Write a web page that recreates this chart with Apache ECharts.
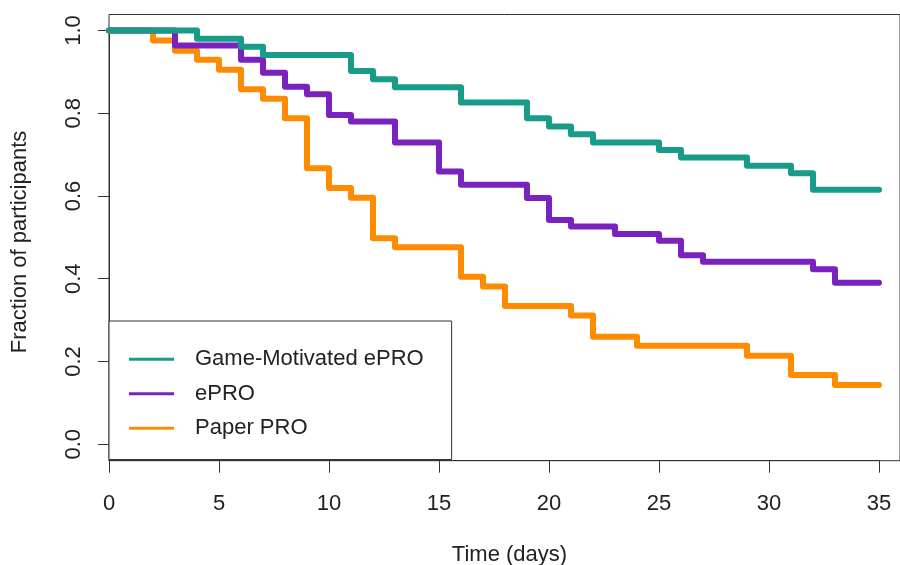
<!DOCTYPE html>
<html><head><meta charset="utf-8">
<script src="https://cdn.jsdelivr.net/npm/echarts@6/dist/echarts.min.js"></script>
<style>html,body{margin:0;padding:0;background:#fff}#c{width:900px;height:565px}</style>
</head><body><div id="c"></div>
<script>
const seriesNames = ["Game-Motivated ePRO", "ePRO", "Paper PRO"];
const gameTimes = [0,4,6,7,11,12,13,16,19,20,21,22,25,26,29,31,32,35];
const gameValues = [1,0.98,0.961,0.941,0.902,0.882,0.863,0.826,0.788,0.768,0.749,0.729,0.711,0.693,0.673,0.655,0.615,0.615];
const eproTimes = [0,3,6,7,8,9,10,11,13,15,16,19,20,21,23,25,26,27,32,33,35];
const eproValues = [1,0.964,0.929,0.898,0.864,0.846,0.796,0.780,0.729,0.659,0.627,0.595,0.542,0.526,0.508,0.492,0.457,0.441,0.423,0.390,0.390];
const paperTimes = [0,2,3,4,5,6,7,8,9,10,11,12,13,16,17,18,21,22,24,29,31,33,35];
const paperValues = [1,0.976,0.951,0.929,0.905,0.858,0.835,0.788,0.667,0.619,0.596,0.498,0.476,0.405,0.381,0.334,0.311,0.260,0.238,0.214,0.167,0.143,0.143];
const xTicks = [0,5,10,15,20,25,30,35];
const yTicks = [0,0.2,0.4,0.6,0.8,1.0];
const xTitle = "Time (days)";
const yTitle = "Fraction of participants";
const colors = ["#169c88", "#7a22bd", "#ff8c00"];

const FONT = "'Liberation Sans', Arial, Helvetica, sans-serif";
const FS = 22;
const zip = (t, v) => t.map((x, i) => [x, v[i]]);
const allData = [zip(gameTimes, gameValues), zip(eproTimes, eproValues), zip(paperTimes, paperValues)];

const chart = echarts.init(document.getElementById('c'), null, {renderer: 'canvas'});
chart.setOption({
  animation: false,
  backgroundColor: '#fff',
  grid: [
    {left: 109, right: -10, top: 14.5, bottom: 104.3, show: true, borderColor: '#333', borderWidth: 1, backgroundColor: 'transparent'},
    {left: 109, right: 21, top: 14.5, bottom: 104.3, show: false},
    {left: 109, right: 21, top: 30.5, bottom: 120.8, show: false}
  ],
  xAxis: [
    {gridIndex: 0, type: 'value', min: 0, max: 36.4, show: false},
    {gridIndex: 1, type: 'value', min: 0, max: 35, interval: 5, position: 'bottom',
     axisLine: {show: true, onZero: false, lineStyle: {color: '#333', width: 1}},
     axisTick: {show: true, length: 12, lineStyle: {color: '#333'}},
     axisLabel: {show: true, margin: 32, fontFamily: FONT, fontSize: FS, color: '#222',
       formatter: v => String(v)},
     splitLine: {show: false}},
    {gridIndex: 2, type: 'value', min: 0, max: 35, show: false}
  ],
  yAxis: [
    {gridIndex: 0, type: 'value', min: -0.04, max: 1.04, show: false},
    {gridIndex: 1, type: 'value', min: -0.04, max: 1.04, show: false},
    {gridIndex: 2, type: 'value', min: 0, max: 1, interval: 0.2,
     axisLine: {show: true, onZero: false, lineStyle: {color: '#333', width: 1}},
     axisTick: {show: true, length: 11, lineStyle: {color: '#333'}},
     axisLabel: {show: true, rotate: 90, margin: 24, fontFamily: FONT, fontSize: FS, color: '#222',
       formatter: v => v.toFixed(1)},
     splitLine: {show: false}}
  ],
  legend: {
    orient: 'vertical', left: 109, top: 321,
    data: seriesNames,
    icon: 'rect', itemWidth: 45, itemHeight: 3, itemGap: 10,
    padding: [26, 28, 19, 20],
    borderColor: '#333', borderWidth: 1, backgroundColor: '#fff',
    textStyle: {fontFamily: FONT, fontSize: FS, color: '#222', lineHeight: 24.5, padding: [0,0,0,16]}
  },
  graphic: [
    {type: 'text', x: 509.5, y: 555, style: {text: xTitle, font: FS + 'px ' + FONT, fill: '#222', align: 'center', verticalAlign: 'middle'}},
    {type: 'text', rotation: Math.PI/2, x: 20, y: 242, style: {text: yTitle, font: FS + 'px ' + FONT, fill: '#222', align: 'center', verticalAlign: 'middle'}}
  ],
  series: seriesNames.map((n, i) => ({
    name: n, type: 'line', xAxisIndex: 2, yAxisIndex: 2, step: 'end',
    data: allData[i], showSymbol: false, symbol: 'none', clip: false,
    color: colors[i],
    lineStyle: {width: 6, color: colors[i], cap: 'round', join: 'round'},
    z: 3 - i
  }))
});
</script></body></html>
